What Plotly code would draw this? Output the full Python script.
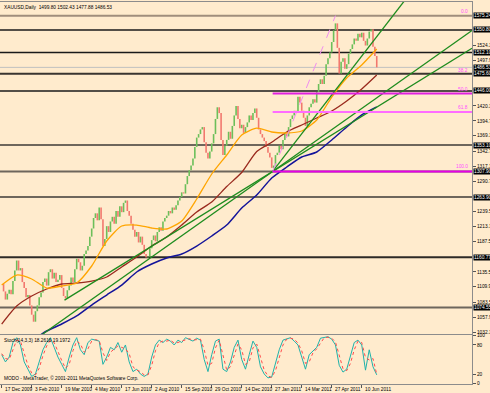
import plotly.graph_objects as go
from plotly.subplots import make_subplots

# ---------------- data ----------------
symbol_header = "XAUUSD,Daily  1499.80 1502.43 1477.88 1486.53"
stoch_header = "Stoch(14,3,3) 18.2616 19.1972"
copyright_text = "MODO - MetaTrader, \u00a9 2001-2011 MetaQuotes Software Corp."

# x axis: trading-bar index counted from 17 Dec 2009
x_tick_idx = [0, 32, 64, 96, 128, 160, 192, 224, 256, 288, 320, 352, 384]
x_tick_labels = ["17 Dec 2009", "3 Feb 2010", "19 Mar 2010", "4 May 2010", "17 Jun 2010",
                 "2 Aug 2010", "15 Sep 2010", "29 Oct 2010", "14 Dec 2010", "27 Jan 2011",
                 "14 Mar 2011", "27 Apr 2011", "10 Jun 2011"]

# closes sampled every 2 bars (bar 0 .. 400)
closes = [
    1115, 1102, 1088, 1098, 1105, 1097, 1120, 1138, 1155, 1138,
    1142, 1118, 1108, 1092, 1096, 1078, 1062, 1050, 1068, 1078,
    1092, 1100, 1118, 1124, 1112, 1135, 1140, 1124, 1134, 1118,
    1122, 1130, 1108, 1094, 1090, 1104, 1112, 1126, 1118, 1140,
    1158, 1152, 1138, 1146, 1166, 1172, 1180, 1196, 1210, 1228,
    1236, 1224, 1246, 1226, 1180, 1192, 1214, 1204, 1222, 1230,
    1218, 1240, 1230, 1248, 1238, 1254, 1258, 1240, 1232, 1218,
    1208, 1196, 1204, 1186, 1196, 1182, 1166, 1160, 1162, 1176,
    1190, 1198, 1188, 1204, 1212, 1206, 1222, 1228, 1232, 1240,
    1236, 1246, 1242, 1250, 1258, 1264, 1272, 1270, 1286, 1300,
    1310, 1318, 1330, 1350, 1366, 1372, 1380, 1384, 1358, 1340,
    1330, 1342, 1356, 1372, 1398, 1418, 1408, 1362, 1336, 1352,
    1362, 1376, 1364, 1386, 1404, 1420, 1398, 1382, 1388, 1374,
    1384, 1392, 1404, 1396, 1408, 1416, 1400, 1380, 1372, 1366,
    1360, 1350, 1340, 1332, 1314, 1318, 1336, 1340, 1352, 1346,
    1362, 1372, 1368, 1384, 1398, 1404, 1412, 1408, 1436, 1426,
    1412, 1400, 1386, 1404, 1418, 1424, 1432, 1426, 1444, 1458,
    1466, 1458, 1472, 1492, 1502, 1512, 1530, 1550, 1562, 1520,
    1476, 1496, 1502, 1484, 1492, 1510, 1518, 1526, 1536, 1532,
    1544, 1538, 1546, 1532, 1524, 1536, 1548, 1552, 1522, 1506, 1486.53,
]
bar_step = 2
bar_idx = [i * bar_step for i in range(len(closes))]

# moving averages (every 16 bars)
ma_idx = list(range(0, 401, 16))
ma_fast = [1113.0, 1130.1, 1123.3, 1107.8, 1111.3, 1116.4, 1145.6, 1188.5, 1214.2, 1215.9,
           1210.8, 1209.1, 1222.8, 1260.6, 1303.5, 1336.1, 1370.4, 1382.1, 1375.6, 1373.9,
           1377.3, 1396.2, 1435.6, 1468.3, 1490.6, 1518.0]
ma_mid = [1046.0, 1076.9, 1094.1, 1106.1, 1114.7, 1116.4, 1119.8, 1126.7, 1143.9, 1161.0,
          1179.9, 1195.4, 1216.0, 1238.3, 1255.4, 1282.0, 1306.0, 1342.0, 1358.0, 1375.6,
          1387.6, 1399.6, 1411.6, 1428.8, 1449.4, 1473.4]
ma_slow_idx = list(range(32, 401, 16))
ma_slow = [1016.9, 1034.0, 1046.0, 1059.8, 1078.6, 1095.8, 1112.9, 1135.3, 1149.0, 1159.3,
           1166.2, 1179.9, 1197.1, 1215.9, 1245.1, 1267.4, 1296.6, 1315.5, 1332.7, 1341.3,
           1361.9, 1384.2, 1404.9, 1418.6]

# stochastic (every 4 bars)
stoch_idx = list(range(0, 401, 4))
stoch_main = [60, 45, 55, 85, 95, 80, 45, 30, 15, 20,
              45, 70, 85, 95, 75, 55, 40, 25, 55, 80,
              95, 70, 60, 85, 92, 90, 88, 40, 55, 75,
              70, 85, 65, 80, 45, 25, 30, 20, 15, 20,
              55, 80, 90, 85, 92, 88, 80, 90, 85, 95,
              92, 88, 94, 90, 50, 25, 60, 88, 92, 30,
              25, 45, 75, 90, 50, 30, 60, 88, 75, 35,
              20, 12, 14, 40, 70, 90, 93, 95, 88, 80,
              55, 30, 60, 68, 75, 94, 96, 97, 92, 80,
              38, 24, 30, 55, 85, 90, 80, 28, 70, 35, 18.2616]
stoch_signal = [62, 52, 50, 70, 90, 88, 62, 38, 22, 18,
                32, 58, 78, 90, 85, 65, 48, 32, 40, 68,
                88, 82, 65, 72, 88, 91, 89, 64, 48, 65,
                72, 78, 75, 72, 62, 35, 28, 25, 18, 18,
                38, 68, 85, 88, 88, 90, 84, 85, 88, 90,
                93, 90, 91, 92, 70, 38, 42, 74, 90, 61,
                28, 35, 60, 82, 70, 40, 45, 74, 82, 55,
                28, 16, 13, 27, 55, 80, 92, 94, 92, 84,
                68, 42, 45, 64, 72, 85, 95, 96, 94, 86,
                59, 31, 27, 42, 70, 88, 85, 54, 49, 52, 19.1972]

price_ticks = [1032.30, 1057.90, 1083.50, 1109.90, 1135.50, 1187.50, 1213.10, 1239.50,
               1290.70, 1317.10, 1342.70, 1369.10, 1394.70, 1420.30, 1497.90, 1524.30]
level_prices = [1575.24, 1550.80, 1512.10, 1475.60, 1446.00, 1353.10, 1307.90, 1263.90, 1160.77, 1074.55]
bid_price = 1486.53

# fibonacci (swing low -> swing high)
fib_low_idx, fib_low = 289, 1307.90
fib_high_idx, fib_high = 356, 1575.24
fib_pcts = [0.0, 38.2, 50.0, 61.8, 100.0]
fib_drawn = [50.0, 61.8, 100.0]

# trend lines: two anchor points (bar index, price)
trendlines = [
    ((289, 1307.9), (356, 1447.5)),   # steep
    ((155, 1155.4), (289, 1307.9)),   # Jul-2010 low -> Jan-2011 low
    ((67, 1087.0), (289, 1307.9)),    # Mar-2010 low -> Jan-2011 low
]
trend_start = [289, -2, 67]

# ---------------- styles ----------------
BG = "#FFEBCD"
X_RANGE = [-1.8, 501.6]
Y_RANGE = [1028.9, 1598.7]
FONT = "Liberation Sans"
FS = 4.8

fig = make_subplots(rows=2, cols=1, shared_xaxes=True, vertical_spacing=0.002)

opens = [closes[0]] + closes[:-1]
highs = [max(o, c) for o, c in zip(opens, closes)]
lows = [min(o, c) for o, c in zip(opens, closes)]
fig.add_trace(go.Ohlc(x=bar_idx, open=opens, high=highs, low=lows, close=closes,
                      increasing_line_color="#6cbf5a", decreasing_line_color="#f2786e",
                      line_width=1.6, tickwidth=0, hoverinfo="skip"), row=1, col=1)

fig.add_trace(go.Scatter(x=ma_slow_idx, y=ma_slow, mode="lines", line=dict(color="#14149a", width=1.5, shape="spline", smoothing=0.6)), row=1, col=1)
fig.add_trace(go.Scatter(x=ma_idx, y=ma_mid, mode="lines", line=dict(color="#9a2a1e", width=1.3, shape="spline", smoothing=0.6)), row=1, col=1)
fig.add_trace(go.Scatter(x=ma_idx, y=ma_fast, mode="lines", line=dict(color="#FFA500", width=1.3, shape="spline", smoothing=0.6)), row=1, col=1)

# trend lines extended as rays to the right edge
for ((xa, ya), (xb, yb)), xs in zip(trendlines, trend_start):
    slope = (yb - ya) / (xb - xa)
    xe = X_RANGE[1]
    fig.add_trace(go.Scatter(x=[xs, xe], y=[ya + slope * (xs - xa), ya + slope * (xe - xa)],
                             mode="lines", line=dict(color="#1e8c1e", width=1.3)), row=1, col=1)

# fib dashed baseline
fig.add_trace(go.Scatter(x=[fib_low_idx, fib_high_idx], y=[fib_low, fib_high], mode="lines",
                         line=dict(color="#f08cf0", width=1, dash="dash")), row=1, col=1)

# stochastic
fig.add_trace(go.Scatter(x=stoch_idx, y=stoch_main, mode="lines", line=dict(color="#20B2AA", width=1)), row=2, col=1)
fig.add_trace(go.Scatter(x=stoch_idx, y=stoch_signal, mode="lines", line=dict(color="#ff4a4a", width=1, dash="dot")), row=2, col=1)

# horizontal levels
level_colors = ["#a08e7c", "#1a1a1a", "#1a1a1a", "#3a3530", "#1a1a1a",
                "#6e665c", "#6e665c", "#6e665c", "#2e2a26", "#6e665c"]
level_widths = [2, 1.5, 1.5, 2, 1.5, 2, 2, 2, 2, 2]
fig.add_shape(type="line", xref="x domain", yref="y", x0=0, x1=1, y0=bid_price, y1=bid_price,
              line=dict(color="#c0c0c0", width=1), layer="below")
for p, c, w in zip(level_prices, level_colors, level_widths):
    fig.add_shape(type="line", xref="x domain", yref="y", x0=0, x1=1, y0=p, y1=p,
                  line=dict(color=c, width=w), layer="below")

fib_colors = {50.0: "#e020e0", 61.8: "#ff6cff", 100.0: "#e600e6"}
for pct in fib_drawn:
    p = fib_high - pct / 100 * (fib_high - fib_low)
    fig.add_shape(type="line", xref="x", yref="y", x0=fib_low_idx, x1=X_RANGE[1], y0=p, y1=p,
                  line=dict(color=fib_colors[pct], width=2))

annotations = []
for pct in fib_pcts:
    p = fib_high - pct / 100 * (fib_high - fib_low)
    annotations.append(dict(x=1, xref="paper", xanchor="right", xshift=-2, y=p, yref="y",
                            yanchor="bottom", text=f"{pct:.1f}", showarrow=False,
                            font=dict(family=FONT, size=FS, color="#ff50ff")))
for p in level_prices + [bid_price]:
    annotations.append(dict(x=1, xref="paper", xanchor="left", xshift=1, y=p, yref="y",
                            text=f"{p:.2f}", showarrow=False, bgcolor="#000000", borderpad=0,
                            font=dict(family=FONT, size=FS, color="#ffffff")))
for xi, lab in zip(x_tick_idx, x_tick_labels):
    annotations.append(dict(x=xi, xref="x2", xanchor="left", xshift=1, y=0, yref="paper",
                            yanchor="top", yshift=-1, text=lab, showarrow=False,
                            font=dict(family=FONT, size=FS, color="#000000")))
annotations.append(dict(x=0, xref="paper", xanchor="left", xshift=2, y=1, yref="paper",
                        yanchor="top", yshift=-1, text=symbol_header, showarrow=False,
                        font=dict(family=FONT, size=FS, color="#000000")))
annotations.append(dict(x=0, xref="paper", xanchor="left", xshift=2, y=0.1283, yref="paper",
                        yanchor="top", yshift=-1, text=stoch_header, showarrow=False,
                        font=dict(family=FONT, size=FS, color="#000000")))
annotations.append(dict(x=0, xref="paper", xanchor="left", xshift=2, y=0, yref="paper",
                        yanchor="bottom", yshift=1, text=copyright_text, showarrow=False,
                        font=dict(family=FONT, size=FS, color="#000000")))

axis_line = "#8c8c8c"
fig.update_layout(
    width=490, height=393, template="none",
    margin=dict(l=0, r=18, t=2, b=9),
    paper_bgcolor=BG, plot_bgcolor=BG, showlegend=False, hovermode=False,
    annotations=annotations,
    xaxis=dict(range=X_RANGE, showgrid=False, zeroline=False, showticklabels=False,
               showline=True, mirror=True, linecolor=axis_line, linewidth=1,
               rangeslider=dict(visible=False), ticks=""),
    xaxis2=dict(range=X_RANGE, showgrid=False, zeroline=False, showticklabels=False,
                showline=True, mirror=True, linecolor=axis_line, linewidth=1,
                tickvals=x_tick_idx, ticks="outside", ticklen=3, tickcolor="#555555"),
    yaxis=dict(domain=[0.1309, 1.0], range=Y_RANGE, side="right", showgrid=False, zeroline=False,
               tickvals=price_ticks, ticktext=[f"{v:.2f}" for v in price_ticks],
               ticks="outside", ticklen=3, tickcolor="#555555", automargin=False,
               tickfont=dict(family=FONT, size=FS, color="#000000"),
               showline=True, mirror=True, linecolor=axis_line, linewidth=1),
    yaxis2=dict(domain=[0.0, 0.1283], range=[-0.6, 100.6], side="right", showgrid=False, zeroline=False,
                tickvals=[0, 20, 80, 100], ticktext=["0", "20", "80", "100"],
                ticks="outside", ticklen=3, tickcolor="#555555", automargin=False,
                tickfont=dict(family=FONT, size=FS, color="#000000"),
                showline=True, mirror=True, linecolor=axis_line, linewidth=1),
)

fig.write_html("out.html", config={"displayModeBar": False, "staticPlot": True},
               post_script="document.body.style.margin='0';document.body.style.overflow='hidden';")
